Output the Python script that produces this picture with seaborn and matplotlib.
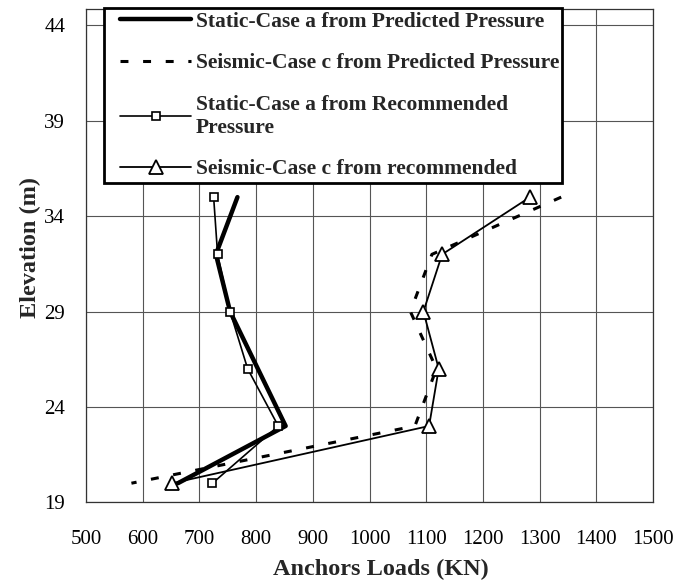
import numpy as np
import pandas as pd
import matplotlib
matplotlib.use("Agg")
import matplotlib.pyplot as plt
import seaborn as sns
from matplotlib.ticker import MultipleLocator
from matplotlib.legend_handler import HandlerLine2D

# ---- data ----
elev_pred_static = [35, 32, 29, 23, 20]
load_pred_static = [767, 729, 754, 852, 662]

elev_pred_seismic = [35, 32, 29, 26, 23, 20]
load_pred_seismic = [1338, 1110, 1072, 1118, 1080, 580]

elev_rec_static = [35, 32, 29, 26, 23, 20]
load_rec_static = [725, 732, 754, 785, 839, 723]

elev_rec_seismic = [35, 32, 29, 26, 23, 20]
load_rec_seismic = [1283, 1128, 1095, 1122, 1105, 652]

labels = [
    "Static-Case a from Predicted Pressure",
    "Seismic-Case c from Predicted Pressure",
    "Static-Case a from Recommended\nPressure",
    "Seismic-Case c from recommended",
]
x_ticks = [500, 600, 700, 800, 900, 1000, 1100, 1200, 1300, 1400, 1500]
y_ticks = [19, 24, 29, 34, 39, 44]


class OffsetLineHandler(HandlerLine2D):
    """Legend line handle that starts a little inside the legend box."""
    def get_xdata(self, legend, xdescent, ydescent, width, height, fontsize):
        off = 0.15 * width
        xdata = [-xdescent + off, -xdescent + width]
        xdata_marker = [-xdescent + off + 0.58 * (width - off)]
        return xdata, xdata_marker


sns.set_theme(style="white")
plt.rcParams["font.family"] = ["Liberation Serif", "DejaVu Serif"]

fig = plt.figure(figsize=(6.94, 5.80), dpi=100)
ax = fig.add_axes([0.124, 0.134, 0.817, 0.850])

df1 = pd.DataFrame({"load": load_pred_static, "elev": elev_pred_static})
df2 = pd.DataFrame({"load": load_pred_seismic, "elev": elev_pred_seismic})
df3 = pd.DataFrame({"load": load_rec_static, "elev": elev_rec_static})
df4 = pd.DataFrame({"load": load_rec_seismic, "elev": elev_rec_seismic})

sns.lineplot(data=df1, x="load", y="elev", sort=False, ax=ax, color="black",
             linewidth=3.2, label=labels[0], zorder=3)
sns.lineplot(data=df2, x="load", y="elev", sort=False, ax=ax, color="black",
             linewidth=2.2, label=labels[1], zorder=3)
ax.lines[-1].set_dashes((2.6, 4.8))
sns.lineplot(data=df3, x="load", y="elev", sort=False, ax=ax, color="black",
             linewidth=1.2, marker="s", markersize=5.5, markerfacecolor="white",
             markeredgecolor="black", markeredgewidth=1.2, label=labels[2], zorder=4)
sns.lineplot(data=df4, x="load", y="elev", sort=False, ax=ax, color="black",
             linewidth=1.3, marker="^", markersize=10, markerfacecolor="white",
             markeredgecolor="black", markeredgewidth=1.3, label=labels[3], zorder=4)

ax.set_xlim(500, 1500)
ax.set_ylim(19, 44.85)
ax.set_xticks(x_ticks)
ax.set_yticks(y_ticks)
ax.xaxis.set_minor_locator(MultipleLocator(50))
ax.yaxis.set_minor_locator(MultipleLocator(1))
ax.grid(True, which="major", color="#555555", linewidth=0.8)
ax.tick_params(axis="both", which="major", direction="in", length=0, labelsize=15, colors="black")
ax.tick_params(axis="x", which="major", pad=20)
ax.tick_params(axis="y", which="major", pad=15)
ax.tick_params(axis="both", which="minor", direction="in", length=4, width=0.8, color="#333333")
for s in ax.spines.values():
    s.set_color("#333333")
    s.set_linewidth(0.9)

ax.set_xlabel("Anchors Loads (KN)", fontsize=17.5, fontweight="bold", labelpad=2)
ax.xaxis.set_label_coords(0.52, -0.115)
ax.set_ylabel("Elevation (m)", fontsize=17.5, fontweight="bold")
ax.yaxis.set_label_coords(-0.080, 0.516)

leg = ax.legend(loc="upper left", bbox_to_anchor=(0.032, 1.002), frameon=True,
                fancybox=False, edgecolor="black", framealpha=1,
                prop={"family": ["Liberation Serif"], "weight": "bold", "size": 15.5},
                handlelength=3.9, handletextpad=0.2, labelspacing=1.0,
                borderpad=0.15, borderaxespad=0,
                handler_map={matplotlib.lines.Line2D: OffsetLineHandler()})
leg.get_frame().set_linewidth(2.0)
leg.set_zorder(10)

fig.savefig("out.png", dpi=100)
